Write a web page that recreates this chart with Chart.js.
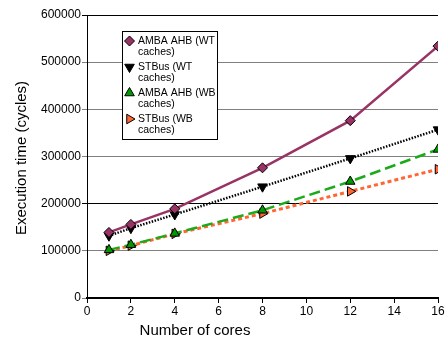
<!DOCTYPE html>
<html>
<head>
<meta charset="utf-8">
<script src="https://cdn.jsdelivr.net/npm/chart.js@4/dist/chart.umd.min.js"></script>
<style>
html, body { margin: 0; padding: 0; background: #fff; }
</style>
</head>
<body>
<canvas id="chart" width="447" height="344"></canvas>
<script>
// data
const cores = [1, 2, 4, 8, 12, 16]
const ambaWT = [139000, 156000, 189000, 276000, 376000, 534000]
const stbusWT = [132000, 148000, 177000, 236000, 296000, 357000]
const ambaWB = [102000, 113000, 137000, 186000, 247000, 315000]
const stbusWB = [100000, 111000, 136000, 179000, 226000, 273000]
const seriesNames = [
    ['AMBA AHB (WT', 'caches)'],
    ['STBus (WT', 'caches)'],
    ['AMBA AHB (WB', 'caches)'],
    ['STBus (WB', 'caches)']
]
const yTitle = 'Execution time (cycles)'
const xTitle = 'Number of cores'

const FONT = '"Liberation Sans", Arial, sans-serif'

const toPoints = (ys) => cores.map((c, i) => ({ x: c, y: ys[i] }))

const styles = [
    { color: '#993366', fill: '#993366', dash: [], width: 2.5, point: 'rectRot', rot: 0, r: 5 },
    { color: '#000000', fill: '#000000', dash: [1.5, 1.5], width: 2.5, point: 'triangle', rot: 180, r: 5.5 },
    { color: '#1aaa1a', fill: '#009900', dash: [11, 5], width: 2.5, point: 'triangle', rot: 0, r: 5.5 },
    { color: '#ff6633', fill: '#ff6633', dash: [4, 3], width: 3, point: 'triangle', rot: 90, r: 5.5 }
]
const allSeries = [ambaWT, stbusWT, ambaWB, stbusWB]

// small marker painter for the legend box
function marker(ctx, s, x, y) {
    ctx.save()
    ctx.translate(x, y)
    ctx.rotate(s.rot * Math.PI / 180)
    ctx.beginPath()
    if (s.point === 'rectRot') {
        ctx.moveTo(0, -s.r); ctx.lineTo(s.r, 0); ctx.lineTo(0, s.r); ctx.lineTo(-s.r, 0)
    } else {
        const h = s.r * 1.5
        ctx.moveTo(0, -s.r); ctx.lineTo(s.r * 0.87, h - s.r); ctx.lineTo(-s.r * 0.87, h - s.r)
    }
    ctx.closePath()
    ctx.fillStyle = s.fill
    ctx.fill()
    ctx.lineWidth = 1
    ctx.strokeStyle = '#000'
    ctx.stroke()
    ctx.restore()
}

const extras = {
    id: 'extras',
    afterDraw(chart) {
        const ctx = chart.ctx
        ctx.save()
        // axis titles
        ctx.fillStyle = '#000'
        ctx.font = '15px ' + FONT
        ctx.textAlign = 'center'
        ctx.textBaseline = 'middle'
        ctx.fillText(xTitle, 195, 331)
        ctx.save()
        ctx.translate(22, 158)
        ctx.rotate(-Math.PI / 2)
        ctx.fillText(yTitle, 0, 0)
        ctx.restore()

        // legend box
        ctx.fillStyle = '#fff'
        ctx.fillRect(122, 31, 95, 108)
        ctx.strokeStyle = '#000'
        ctx.lineWidth = 1
        ctx.strokeRect(122.5, 31.5, 95, 108)
        ctx.font = '10.5px ' + FONT
        ctx.textAlign = 'left'
        seriesNames.forEach((lines, i) => {
            const y = 41 + i * 26
            marker(ctx, styles[i], 129.5, y)
            ctx.fillStyle = '#000'
            lines.forEach((t, j) => ctx.fillText(t, 138, y + j * 11))
        })
        ctx.restore()
    }
}

new Chart(document.getElementById('chart').getContext('2d'), {
    type: 'line',
    data: {
        datasets: allSeries.map((ys, i) => ({
            label: seriesNames[i].join(' '),
            data: toPoints(ys),
            borderColor: styles[i].color,
            borderWidth: styles[i].width,
            borderDash: styles[i].dash,
            backgroundColor: styles[i].fill,
            pointStyle: styles[i].point,
            pointRotation: styles[i].rot,
            pointRadius: styles[i].r,
            pointBorderColor: '#000',
            pointBorderWidth: 1,
            tension: 0,
            fill: false
        }))
    },
    options: {
        responsive: false,
        animation: false,
        devicePixelRatio: 1,
        layout: { padding: { left: 0, top: 15, right: 9, bottom: 0 } },
        plugins: {
            legend: { display: false },
            tooltip: { enabled: false }
        },
        scales: {
            x: {
                type: 'linear',
                min: 0,
                max: 16,
                afterFit: (s) => { s.height = 46 },
                ticks: { stepSize: 2, color: '#000', font: { family: FONT, size: 12 }, padding: 1 },
                grid: { display: true, drawOnChartArea: false, color: '#000', tickLength: 5 },
                border: { color: '#000', width: 2 }
            },
            y: {
                min: 0,
                max: 600000,
                afterFit: (s) => { s.width = 87 },
                ticks: {
                    stepSize: 100000, color: '#000', font: { family: FONT, size: 12 }, padding: 1,
                    callback: (v) => String(v)
                },
                grid: {
                    color: (c) => (c.tick && (c.tick.value === 200000 || c.tick.value === 600000)) ? '#000' : '#808080',
                    lineWidth: 1,
                    tickLength: 5
                },
                border: { color: '#000', width: 1 }
            }
        }
    },
    plugins: [extras]
});
</script>
</body>
</html>
